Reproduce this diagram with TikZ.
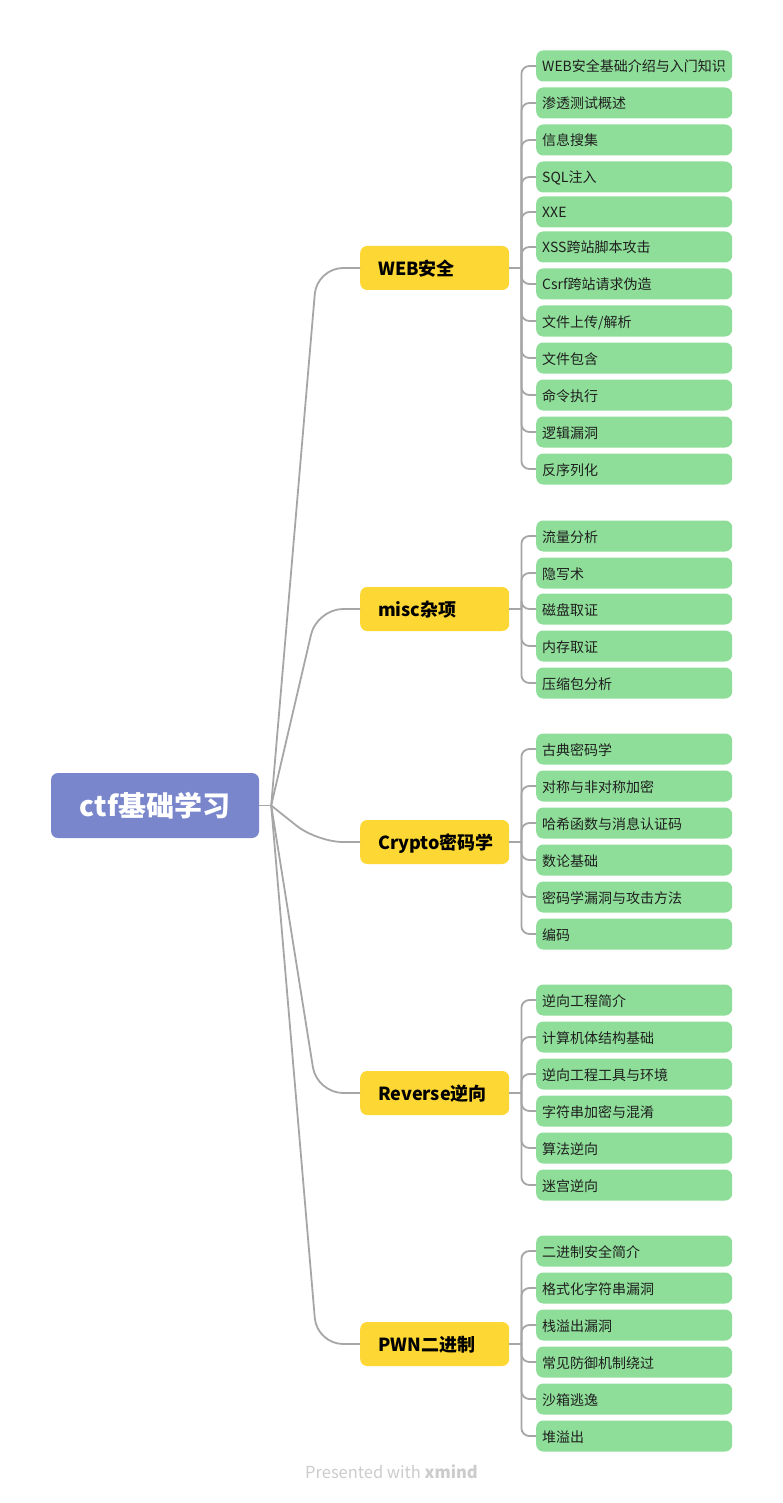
\documentclass[tikz,border=0pt]{standalone}
\usepackage{fontspec}
\setmainfont{Noto Sans CJK SC}
\usetikzlibrary{calc}
\definecolor{rootblue}{HTML}{7986CB}
\definecolor{topicyellow}{HTML}{FDD733}
\definecolor{leafgreen}{HTML}{8EDE99}
\definecolor{linkgray}{HTML}{A6A6A6}
\definecolor{footgray}{HTML}{CCCCCC}
\tikzset{
  rootbox/.style={fill=rootblue, rounded corners=7pt, minimum width=208pt,
    minimum height=65pt, inner sep=0pt, text=white,
    font=\fontsize{28}{32}\selectfont\bfseries},
  branchbox/.style={fill=topicyellow, rounded corners=7pt, minimum height=44pt,
    text width=113pt, inner xsep=18pt, inner ysep=0pt, align=left,
    text height=17pt, text depth=2.5pt,
    font=\fontsize{18}{22}\selectfont\bfseries, text=black},
  leafbox/.style={fill=leafgreen, rounded corners=7pt, minimum height=31pt,
    text width=184pt, inner xsep=6pt, inner ysep=0pt, align=left,
    text height=14pt, text depth=2pt,
    font=\fontsize{14}{17}\selectfont, text=black!88},
  link/.style={draw=linkgray, line width=1.8pt},
  footer/.style={text=footgray, font=\fontsize{16.5}{20}\selectfont}
}
\begin{document}
\begin{tikzpicture}[x=1pt,y=-1pt]
\useasboundingbox (0,0) rectangle (783,1503);
\fill[white] (0,0) rectangle (783,1503);

% central topic
\node[rootbox] (root) at (155,805.5) {ctf基础学习};
\coordinate (rj) at ($(root.east)+(12,0)$);
\draw[link] (root.east) -- (rj);

% main topics
\node[branchbox, anchor=west] (web)  at (360,268)  {WEB安全};
\node[branchbox, anchor=west] (misc) at (360,609)  {misc杂项};
\node[branchbox, anchor=west] (cry)  at (360,842)  {Crypto密码学};
\node[branchbox, anchor=west] (rev)  at (360,1093) {Reverse逆向};
\node[branchbox, anchor=west] (pwn)  at (360,1344) {PWN二进制};

\foreach \b in {web,misc,cry,rev,pwn}{
  \draw[link, rounded corners=26pt] (rj) -- ($(\b.west)+(-43,0)$) -- (\b.west);
  \coordinate (\b j) at ($(\b.east)+(12,0)$);
  \draw[link] (\b.east) -- (\b j);
}

% subtopics
\foreach \t/\y [count=\i] in {WEB安全基础介绍与入门知识/66, 渗透测试概述/103,
    信息搜集/140, SQL注入/177, XXE/212, XSS跨站脚本攻击/247,
    Csrf跨站请求伪造/284, {文件上传/解析}/321, 文件包含/358,
    命令执行/395, 逻辑漏洞/432, 反序列化/469}{
  \node[leafbox, anchor=west] (web\i) at (536,\y) {\t};
  \draw[link, rounded corners=8pt] (webj) |- (web\i.west);
}
\foreach \t/\y [count=\i] in {流量分析/536, 隐写术/573, 磁盘取证/609,
    内存取证/646, 压缩包分析/683}{
  \node[leafbox, anchor=west] (misc\i) at (536,\y) {\t};
  \draw[link, rounded corners=8pt] (miscj) |- (misc\i.west);
}
\foreach \t/\y [count=\i] in {古典密码学/749, 对称与非对称加密/786,
    哈希函数与消息认证码/823, 数论基础/860, 密码学漏洞与攻击方法/897, 编码/934}{
  \node[leafbox, anchor=west] (cry\i) at (536,\y) {\t};
  \draw[link, rounded corners=8pt] (cryj) |- (cry\i.west);
}
\foreach \t/\y [count=\i] in {逆向工程简介/1000, 计算机体结构基础/1037,
    逆向工程工具与环境/1074, 字符串加密与混淆/1111, 算法逆向/1148, 迷宫逆向/1185}{
  \node[leafbox, anchor=west] (rev\i) at (536,\y) {\t};
  \draw[link, rounded corners=8pt] (revj) |- (rev\i.west);
}
\foreach \t/\y [count=\i] in {二进制安全简介/1251, 格式化字符串漏洞/1288,
    栈溢出漏洞/1325, 常见防御机制绕过/1362, 沙箱逃逸/1399, 堆溢出/1436}{
  \node[leafbox, anchor=west] (pwn\i) at (536,\y) {\t};
  \draw[link, rounded corners=8pt] (pwnj) |- (pwn\i.west);
}

\node[footer] (credit) at (391.5,1472) {Presented with \textbf{xmind}};
\end{tikzpicture}
\end{document}
